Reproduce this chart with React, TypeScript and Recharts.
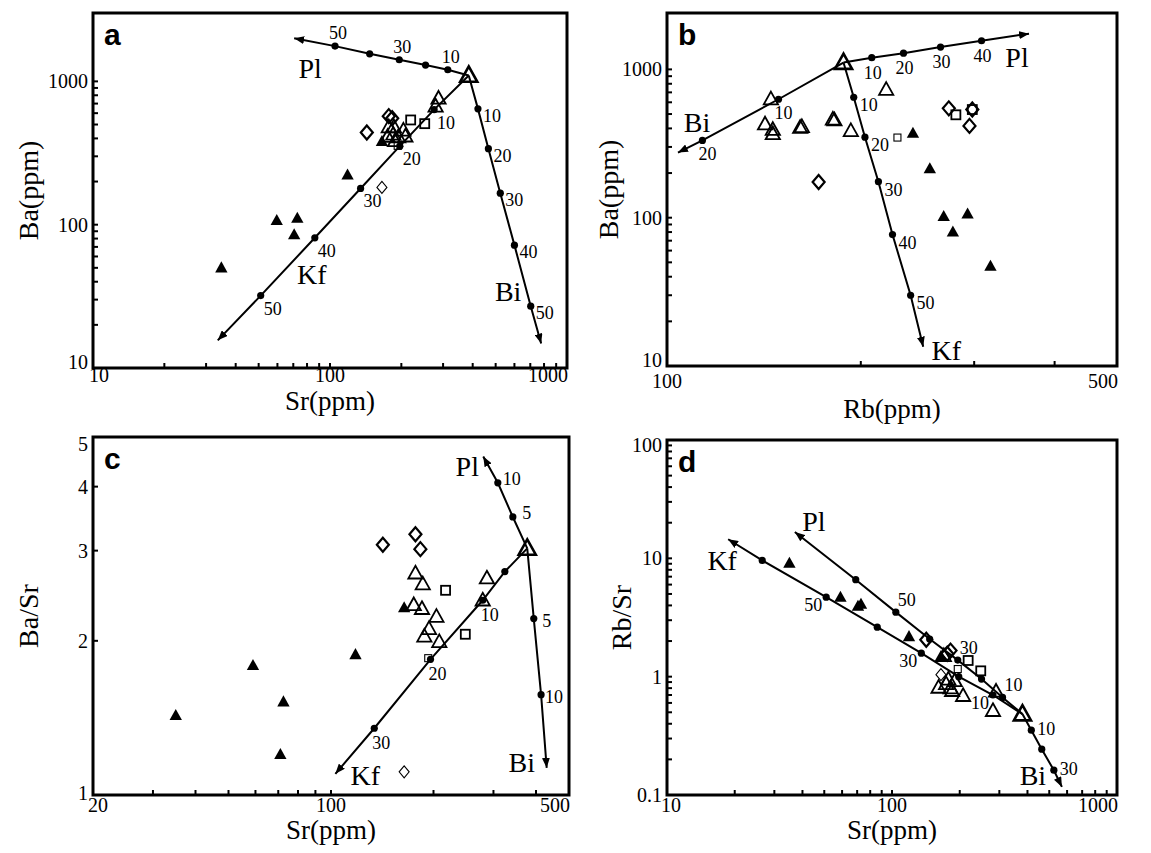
import React from 'react';
import { ScatterChart, Scatter, XAxis, YAxis, ReferenceArea } from 'recharts';

const SERIF = '"Liberation Serif", "Times New Roman", serif';
const SANS = '"Liberation Sans", Arial, sans-serif';

type Pt = { x: number; y: number };
type VPt = { x: number; y: number; f: number | null };

// ---------- a: Ba vs Sr ----------
const aSrTicks = [10, 20, 30, 40, 50, 60, 70, 80, 90, 100, 200, 300, 400, 500, 600, 700, 800, 900, 1000];
const aSrLabels = [10, 100, 1000];
const aBaTicks = [10, 20, 30, 40, 50, 60, 70, 80, 90, 100, 200, 300, 400, 500, 600, 700, 800, 900, 1000];
const aBaLabels = [10, 100, 1000];
const aStart: Pt[] = [{ x: 385, y: 1100 }];
const aPl: VPt[] = [
  { x: 385, y: 1100, f: 0 }, { x: 314, y: 1205, f: 10 }, { x: 253, y: 1299, f: 20 }, { x: 196, y: 1416, f: 30 },
  { x: 147, y: 1557, f: 40 }, { x: 105, y: 1762, f: 50 }, { x: 70.6, y: 2000, f: null },
];
const aKf: VPt[] = [
  { x: 385, y: 1100, f: 0 }, { x: 275, y: 635, f: 10 }, { x: 197, y: 353, f: 20 }, { x: 134.6, y: 179, f: 30 },
  { x: 86.3, y: 81, f: 40 }, { x: 51, y: 32, f: 50 }, { x: 33.6, y: 15.6, f: null },
];
const aBi: VPt[] = [
  { x: 385, y: 1100, f: 0 }, { x: 421, y: 643, f: 10 }, { x: 466, y: 339, f: 20 }, { x: 523, y: 166, f: 30 },
  { x: 600, y: 72, f: 40 }, { x: 703, y: 27, f: 50 }, { x: 778, y: 14.8, f: null },
];
const aSolid: Pt[] = [
  { x: 34.8, y: 50 }, { x: 59.6, y: 107 }, { x: 70.6, y: 85 }, { x: 72.8, y: 111 }, { x: 118.6, y: 222 }, { x: 165.6, y: 381 },
];
const aOpen: Pt[] = [
  { x: 177, y: 480 }, { x: 186, y: 480 }, { x: 175, y: 411 }, { x: 185, y: 427 }, { x: 204, y: 455 },
  { x: 194, y: 409 }, { x: 188, y: 384 }, { x: 208, y: 414 }, { x: 287, y: 760 }, { x: 279, y: 670 },
];
const aDiamond: Pt[] = [{ x: 143, y: 440 }, { x: 177, y: 572 }, { x: 183, y: 553 }];
const aDiamondThin: Pt[] = [{ x: 165.6, y: 182 }];
const aSquare: Pt[] = [{ x: 219, y: 538 }, { x: 251, y: 507 }];
const aSquareSmall: Pt[] = [{ x: 193, y: 355 }];

// ---------- b: Ba vs Rb ----------
const bRbTicks = [100, 200, 300, 400, 500];
const bRbLabels = [100, 500];
const bBaTicks = [10, 20, 30, 40, 50, 60, 70, 80, 90, 100, 200, 300, 400, 500, 600, 700, 800, 900, 1000];
const bBaLabels = [10, 100, 1000];
const bStart: Pt[] = [{ x: 188, y: 1112 }];
const bPl: VPt[] = [
  { x: 188, y: 1112, f: 0 }, { x: 208, y: 1200, f: 10 }, { x: 233, y: 1286, f: 20 }, { x: 266, y: 1415, f: 30 },
  { x: 308, y: 1560, f: 40 }, { x: 365, y: 1741, f: null },
];
const bKf: VPt[] = [
  { x: 188, y: 1112, f: 0 }, { x: 195, y: 649, f: 10 }, { x: 203, y: 349, f: 20 }, { x: 213, y: 175, f: 30 },
  { x: 224, y: 77, f: 40 }, { x: 239, y: 30, f: 50 }, { x: 250, y: 13.5, f: null },
];
const bBi: VPt[] = [
  { x: 188, y: 1112, f: 0 }, { x: 149, y: 629, f: 10 }, { x: 113.5, y: 332, f: 20 }, { x: 104, y: 275, f: null },
];
const bSolid: Pt[] = [
  { x: 241, y: 371 }, { x: 256, y: 214 }, { x: 269, y: 102 }, { x: 278, y: 80 }, { x: 293, y: 106 }, { x: 318, y: 47 },
];
const bOpen: Pt[] = [
  { x: 145, y: 630 }, { x: 142, y: 427 }, { x: 146, y: 392 }, { x: 146, y: 367 }, { x: 161, y: 405 },
  { x: 162, y: 410 }, { x: 181, y: 460 }, { x: 182, y: 455 }, { x: 193, y: 385 }, { x: 219, y: 731 },
];
const bDiamond: Pt[] = [{ x: 172, y: 174 }, { x: 274, y: 546 }, { x: 298, y: 536 }, { x: 295, y: 416 }];
const bDiamondThin: Pt[] = [];
const bSquare: Pt[] = [{ x: 281, y: 494 }, { x: 298, y: 536 }];
const bSquareSmall: Pt[] = [{ x: 228, y: 347 }];

// ---------- c: Ba/Sr vs Sr ----------
const cSrTicks = [20, 30, 40, 50, 60, 70, 80, 90, 100, 200, 300, 400, 500];
const cSrLabels = [20, 100, 500];
const cRatioTicks = [1, 2, 3, 4, 5];
const cRatioLabels = [1, 2, 3, 4, 5];
const cStart: Pt[] = [{ x: 377, y: 3.03 }];
const cPl: VPt[] = [
  { x: 377, y: 3.03, f: 0 }, { x: 342, y: 3.49, f: 5 }, { x: 309, y: 4.07, f: 10 }, { x: 280, y: 4.58, f: null },
];
const cKf: VPt[] = [
  { x: 377, y: 3.03, f: 0 }, { x: 324, y: 2.73, f: 5 }, { x: 279, y: 2.4, f: 10 }, { x: 196, y: 1.84, f: 20 },
  { x: 134, y: 1.35, f: 30 }, { x: 103, y: 1.1, f: null },
];
const cBi: VPt[] = [
  { x: 377, y: 3.03, f: 0 }, { x: 394, y: 2.21, f: 5 }, { x: 414, y: 1.57, f: 10 }, { x: 430, y: 1.13, f: null },
];
const cSolid: Pt[] = [
  { x: 35, y: 1.43 }, { x: 59, y: 1.79 }, { x: 72.5, y: 1.52 }, { x: 71, y: 1.2 }, { x: 118, y: 1.88 }, { x: 164, y: 2.32 },
];
const cOpen: Pt[] = [
  { x: 177, y: 2.71 }, { x: 186, y: 2.58 }, { x: 175, y: 2.35 }, { x: 185, y: 2.31 }, { x: 204, y: 2.23 },
  { x: 194, y: 2.11 }, { x: 188, y: 2.04 }, { x: 208, y: 1.99 }, { x: 287, y: 2.65 }, { x: 279, y: 2.4 },
];
const cDiamond: Pt[] = [{ x: 142, y: 3.08 }, { x: 177, y: 3.23 }, { x: 183, y: 3.02 }];
const cDiamondThin: Pt[] = [{ x: 164, y: 1.11 }];
const cSquare: Pt[] = [{ x: 217, y: 2.51 }, { x: 248, y: 2.06 }];
const cSquareSmall: Pt[] = [{ x: 193, y: 1.85 }];

// ---------- d: Rb/Sr vs Sr ----------
const dSrTicks = [10, 20, 30, 40, 50, 60, 70, 80, 90, 100, 200, 300, 400, 500, 600, 700, 800, 900, 1000];
const dSrLabels = [10, 100, 1000];
const dRatioTicks = [
  0.1, 0.2, 0.3, 0.4, 0.5, 0.6, 0.7, 0.8, 0.9, 1, 2, 3, 4, 5, 6, 7, 8, 9, 10, 20, 30, 40, 50, 60, 70, 80, 90, 100,
];
const dRatioLabels = [0.1, 1, 10, 100];
const dStart: Pt[] = [{ x: 380, y: 0.483 }];
const dPl: VPt[] = [
  { x: 380, y: 0.483, f: 0 }, { x: 310, y: 0.668, f: 10 }, { x: 250, y: 0.955, f: 20 }, { x: 196, y: 1.38, f: 30 },
  { x: 147, y: 2.08, f: 40 }, { x: 104, y: 3.51, f: 50 }, { x: 69, y: 6.6, f: 60 }, { x: 37, y: 16.7, f: null },
];
const dKf: VPt[] = [
  { x: 380, y: 0.483, f: 0 }, { x: 281, y: 0.7, f: 10 }, { x: 198, y: 1.0, f: 20 }, { x: 135, y: 1.58, f: 30 },
  { x: 86, y: 2.62, f: 40 }, { x: 51, y: 4.7, f: 50 }, { x: 26.5, y: 9.6, f: 60 }, { x: 18.7, y: 14.5, f: null },
];
const dBi: VPt[] = [
  { x: 380, y: 0.483, f: 0 }, { x: 416, y: 0.353, f: 10 }, { x: 463, y: 0.244, f: 20 }, { x: 524, y: 0.162, f: 30 },
  { x: 569, y: 0.117, f: null },
];
const dSolid: Pt[] = [
  { x: 35, y: 9.1 }, { x: 59, y: 4.7 }, { x: 70.6, y: 3.94 }, { x: 72.8, y: 4.1 }, { x: 119, y: 2.18 }, { x: 165, y: 1.48 },
];
const dOpen: Pt[] = [
  { x: 161, y: 0.81 }, { x: 174, y: 0.87 }, { x: 185, y: 0.76 }, { x: 207, y: 0.69 }, { x: 281, y: 0.515 },
  { x: 290, y: 0.75 }, { x: 178, y: 0.95 }, { x: 190, y: 0.92 }, { x: 182, y: 0.8 }, { x: 170, y: 1.5 },
];
const dDiamond: Pt[] = [{ x: 142, y: 2.05 }, { x: 182, y: 1.66 }, { x: 176, y: 1.56 }];
const dDiamondThin: Pt[] = [{ x: 165, y: 1.04 }];
const dSquare: Pt[] = [{ x: 218, y: 1.37 }, { x: 248, y: 1.12 }];
const dSquareSmall: Pt[] = [{ x: 196, y: 1.16 }];

// ---------- marks ----------
const tri = (cx: number, cy: number, r: number) =>
  `M${cx},${cy - r} L${cx + r * 0.95},${cy + r * 0.7} L${cx - r * 0.95},${cy + r * 0.7} Z`;

const SolidTri = (p: any) => <path d={tri(p.cx, p.cy, 6.5)} fill="#000" />;
const OpenTri = (p: any) => <path d={tri(p.cx, p.cy, 7.5)} fill="none" stroke="#000" strokeWidth={1.8} />;
const StartTri = (p: any) => <path d={tri(p.cx, p.cy, 9)} fill="none" stroke="#000" strokeWidth={2.6} />;
const Diamond = (p: any) => (
  <path d={`M${p.cx},${p.cy - 7} L${p.cx + 6},${p.cy} L${p.cx},${p.cy + 7} L${p.cx - 6},${p.cy} Z`}
    fill="none" stroke="#000" strokeWidth={2.2} />
);
const DiamondThin = (p: any) => (
  <path d={`M${p.cx},${p.cy - 6} L${p.cx + 5},${p.cy} L${p.cx},${p.cy + 6} L${p.cx - 5},${p.cy} Z`}
    fill="none" stroke="#000" strokeWidth={1.1} />
);
const Square = (p: any) => (
  <rect x={p.cx - 4.5} y={p.cy - 4.5} width={9} height={9} fill="none" stroke="#000" strokeWidth={1.8} />
);
const SquareSmall = (p: any) => (
  <rect x={p.cx - 3.5} y={p.cy - 3.5} width={7} height={7} fill="none" stroke="#000" strokeWidth={1.1} />
);

type Vec = {
  id: string; data: VPt[]; show: number[]; name: string;
  lx: number; ly: number; nx: number; ny: number;
};

// nodes along a mixing vector: dots with % labels, arrow tip carries the mineral name
const VecNode = (p: any) => {
  const { cx, cy, payload, vec } = p;
  if (payload.f === null) {
    return (
      <g>
        <defs>
          <marker id={vec.id} viewBox="0 0 10 8" refX="10" refY="4" markerWidth="10" markerHeight="8"
            markerUnits="userSpaceOnUse" orient="auto">
            <path d="M0,0 L10,4 L0,8 Z" fill="#000" />
          </marker>
        </defs>
        <text x={cx + vec.nx} y={cy + vec.ny} textAnchor="middle" dominantBaseline="central"
          fontFamily={SERIF} fontSize={28}>{vec.name}</text>
      </g>
    );
  }
  if (payload.f === 0) return <g />;
  return (
    <g>
      <circle cx={cx} cy={cy} r={3.6} fill="#000" />
      {vec.show.includes(payload.f) && (
        <text x={cx + vec.lx} y={cy + vec.ly} textAnchor="middle" dominantBaseline="central"
          fontFamily={SERIF} fontSize={18}>{payload.f}</text>
      )}
    </g>
  );
};

const XTick = (p: any) => {
  const { x, y, payload, labels, domain, dy, firstDx } = p;
  const v = payload.value;
  const atMin = v === domain[0];
  const atMax = v === domain[1];
  return (
    <g>
      <line x1={x} y1={y} x2={x} y2={y - 5} stroke="#000" strokeWidth={2} />
      {labels.includes(v) && (
        <text x={atMax ? x + 1 : x + (atMin ? firstDx : 0)} y={y + dy} textAnchor={atMax ? 'end' : 'middle'}
          fontFamily={SERIF} fontSize={20}>{v}</text>
      )}
    </g>
  );
};

const YTick = (p: any) => {
  const { x, y, payload, labels, domain, edge } = p;
  const v = payload.value;
  const shift = v === domain[0] ? edge[0] : v === domain[1] ? edge[1] : 0;
  return (
    <g>
      <line x1={x} y1={y} x2={x + 5} y2={y} stroke="#000" strokeWidth={2} />
      {labels.includes(v) && (
        <text x={x - 5} y={y + shift} textAnchor="end" dominantBaseline="central"
          fontFamily={SERIF} fontSize={20}>{v}</text>
      )}
    </g>
  );
};

type PanelProps = {
  left: number; top: number; width: number; height: number;
  mTop: number; mRight: number; mBottom: number; yw: number; xh: number;
  xDomain: [number, number]; yDomain: [number, number];
  xTicks: number[]; xLabels: number[]; yTicks: number[]; yLabels: number[];
  xLabelDy: number; xFirstDx: number; yEdge: [number, number];
  xTitle: string; xTitleDy: number; yTitle: string; yTitleX: number;
  letter: string; vectors: Vec[]; start: Pt[];
  solid: Pt[]; open: Pt[]; diamond: Pt[]; diamondThin: Pt[]; square: Pt[]; squareSmall: Pt[];
};

function Panel(p: PanelProps) {
  const marks: [Pt[], (s: any) => React.ReactElement][] = [
    [p.solid, SolidTri], [p.open, OpenTri], [p.diamond, Diamond], [p.diamondThin, DiamondThin],
    [p.square, Square], [p.squareSmall, SquareSmall], [p.start, StartTri],
  ];
  return (
    <div style={{ position: 'absolute', left: p.left, top: p.top }}>
      <ScatterChart width={p.width} height={p.height}
        margin={{ top: p.mTop, right: p.mRight, bottom: p.mBottom, left: 0 }}>
        <XAxis type="number" dataKey="x" scale="log" domain={p.xDomain} allowDataOverflow ticks={p.xTicks}
          interval={0} height={p.xh} tickSize={0} tickMargin={0} axisLine={false} tickLine={false}
          tick={(t: any) => <XTick {...t} labels={p.xLabels} domain={p.xDomain} dy={p.xLabelDy} firstDx={p.xFirstDx} />}
          label={{
            content: (l: any) => (
              <text x={l.viewBox.x + l.viewBox.width / 2} y={l.viewBox.y + p.xTitleDy} textAnchor="middle"
                fontFamily={SERIF} fontSize={27}>{p.xTitle}</text>
            ),
          }} />
        <YAxis type="number" dataKey="y" scale="log" domain={p.yDomain} allowDataOverflow ticks={p.yTicks}
          interval={0} width={p.yw} tickSize={0} tickMargin={0} axisLine={false} tickLine={false}
          tick={(t: any) => <YTick {...t} labels={p.yLabels} domain={p.yDomain} edge={p.yEdge} />}
          label={{
            content: (l: any) => {
              const cy = l.viewBox.y + l.viewBox.height / 2;
              return (
                <text x={p.yTitleX} y={cy} transform={`rotate(-90 ${p.yTitleX} ${cy})`} textAnchor="middle"
                  dominantBaseline="central" fontFamily={SERIF} fontSize={28}>{p.yTitle}</text>
              );
            },
          }} />
        <ReferenceArea x1={p.xDomain[0]} x2={p.xDomain[1]} y1={p.yDomain[0]} y2={p.yDomain[1]}
          fill="none" fillOpacity={0} stroke="#000" strokeWidth={3} ifOverflow="visible"
          label={{ value: p.letter, position: 'insideTopLeft', offset: 11, fontSize: 30, fontWeight: 700, fontFamily: SANS, fill: '#000' }} />
        {p.vectors.map((v) => (
          <Scatter key={v.id} data={v.data} fill="#000" isAnimationActive={false} lineType="joint"
            line={{ stroke: '#000', strokeWidth: 2, markerEnd: `url(#${v.id})` }}
            shape={(s: any) => <VecNode {...s} vec={v} />} />
        ))}
        {marks.filter(([d]) => d.length > 0).map(([d, Shape], i) => (
          <Scatter key={`m${i}`} data={d} fill="#000" isAnimationActive={false} shape={(s: any) => <Shape {...s} />} />
        ))}
      </ScatterChart>
    </div>
  );
}

export default function App() {
  return (
    <div style={{ position: 'absolute', left: 0, top: 0, width: 1151, height: 853, background: '#fff' }}>
      <Panel left={0} top={0} width={580} height={420} mTop={13} mRight={13} mBottom={0} yw={93} xh={52}
        xDomain={[10, 1000]} yDomain={[10, 3000]} xTicks={aSrTicks} xLabels={aSrLabels}
        yTicks={aBaTicks} yLabels={aBaLabels} xLabelDy={14} xFirstDx={6} yEdge={[-6, 0]}
        xTitle="Sr(ppm)" xTitleDy={42} yTitle="Ba(ppm)" yTitleX={28} letter="a"
        vectors={[
          { id: 'a-pl', data: aPl, show: [10, 30, 50], name: 'Pl', lx: 3, ly: -13, nx: 16, ny: 30 },
          { id: 'a-kf', data: aKf, show: [10, 20, 30, 40, 50], name: 'Kf', lx: 12, ly: 13, nx: 94, ny: -66 },
          { id: 'a-bi', data: aBi, show: [10, 20, 30, 40, 50], name: 'Bi', lx: 14, ly: 7, nx: -33, ny: -52 },
        ]}
        start={aStart} solid={aSolid} open={aOpen} diamond={aDiamond} diamondThin={aDiamondThin}
        square={aSquare} squareSmall={aSquareSmall} />
      <Panel left={580} top={0} width={571} height={432} mTop={13} mRight={34} mBottom={12} yw={87} xh={54}
        xDomain={[100, 500]} yDomain={[10, 2400]} xTicks={bRbTicks} xLabels={bRbLabels}
        yTicks={bBaTicks} yLabels={bBaLabels} xLabelDy={22} xFirstDx={0} yEdge={[-6, 0]}
        xTitle="Rb(ppm)" xTitleDy={52} yTitle="Ba(ppm)" yTitleX={28} letter="b"
        vectors={[
          { id: 'b-pl', data: bPl, show: [10, 20, 30, 40], name: 'Pl', lx: 1, ly: 15, nx: -12, ny: 24 },
          { id: 'b-kf', data: bKf, show: [10, 20, 30, 40, 50], name: 'Kf', lx: 15, ly: 8, nx: 23, ny: 4 },
          { id: 'b-bi', data: bBi, show: [10, 20], name: 'Bi', lx: 5, ly: 14, nx: 19, ny: -30 },
        ]}
        start={bStart} solid={bSolid} open={bOpen} diamond={bDiamond} diamondThin={bDiamondThin}
        square={bSquare} squareSmall={bSquareSmall} />
      <Panel left={0} top={420} width={580} height={433} mTop={17} mRight={11} mBottom={0} yw={93} xh={58}
        xDomain={[20, 500]} yDomain={[1, 5]} xTicks={cSrTicks} xLabels={cSrLabels}
        yTicks={cRatioTicks} yLabels={cRatioLabels} xLabelDy={17} xFirstDx={5} yEdge={[-2, 7]}
        xTitle="Sr(ppm)" xTitleDy={44} yTitle="Ba/Sr" yTitleX={28} letter="c"
        vectors={[
          { id: 'c-pl', data: cPl, show: [5, 10], name: 'Pl', lx: 14, ly: -4, nx: -16, ny: 10 },
          { id: 'c-kf', data: cKf, show: [10, 20, 30], name: 'Kf', lx: 7, ly: 15, nx: 30, ny: 2 },
          { id: 'c-bi', data: cBi, show: [5, 10], name: 'Bi', lx: 13, ly: 2, nx: -25, ny: -5 },
        ]}
        start={cStart} solid={cSolid} open={cOpen} diamond={cDiamond} diamondThin={cDiamondThin}
        square={cSquare} squareSmall={cSquareSmall} />
      <Panel left={580} top={420} width={571} height={433} mTop={20} mRight={34} mBottom={0} yw={87} xh={58}
        xDomain={[10, 1000]} yDomain={[0.1, 100]} xTicks={dSrTicks} xLabels={dSrLabels}
        yTicks={dRatioTicks} yLabels={dRatioLabels} xLabelDy={17} xFirstDx={4} yEdge={[0, 5]}
        xTitle="Sr(ppm)" xTitleDy={44} yTitle="Rb/Sr" yTitleX={41} letter="d"
        vectors={[
          { id: 'd-pl', data: dPl, show: [10, 30, 50], name: 'Pl', lx: 11, ly: -12, nx: 19, ny: -10 },
          { id: 'd-kf', data: dKf, show: [10, 30, 50], name: 'Kf', lx: -13, ly: 8, nx: -6, ny: 21 },
          { id: 'd-bi', data: dBi, show: [10, 30], name: 'Bi', lx: 15, ly: -1, nx: -29, ny: -11 },
        ]}
        start={dStart} solid={dSolid} open={dOpen} diamond={dDiamond} diamondThin={dDiamondThin}
        square={dSquare} squareSmall={dSquareSmall} />
    </div>
  );
}
